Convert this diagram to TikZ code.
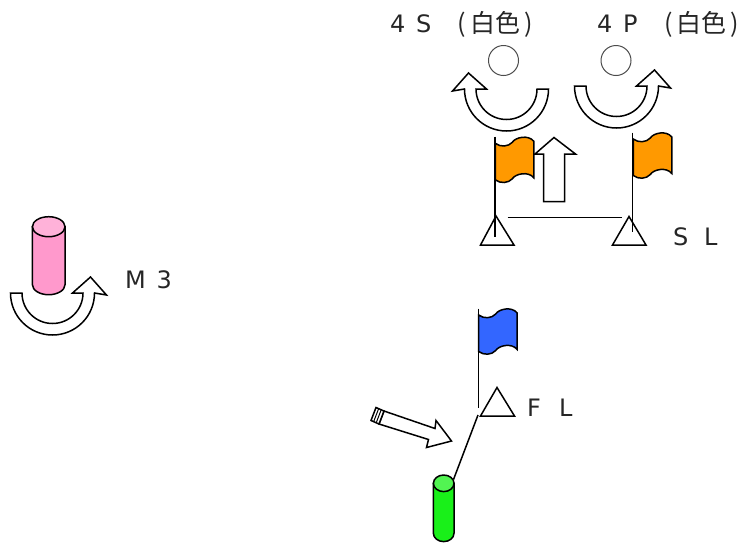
\documentclass[tikz,border=0pt]{standalone}
\usepackage{fontspec}
\setmainfont{DejaVu Sans}
\newfontfamily\cjk{Noto Sans CJK JP}
\definecolor{flagorange}{HTML}{FF9900}
\definecolor{flagblue}{HTML}{3366FF}
\definecolor{tubepink}{HTML}{FF99CC}
\definecolor{tubegreen}{HTML}{19F019}
\tikzset{
    lab/.style={anchor=base west,inner sep=0pt,text=black!85,font=\fontsize{24}{28}\selectfont},
    pen/.style={draw=black,line width=1.5pt,line join=miter},
    thin pen/.style={draw=black!70,line width=1pt},
    pics/flagcloth/.style={code={
        \draw[pen,fill=#1] (0,0) .. controls (5,-4) and (13,-3.5) .. (17,1) .. controls (20,6) and (33,9) .. (38.5,2)
            -- (38.5,-34.5) .. controls (33,-27.5) and (20,-30.5) .. (17,-35.5) .. controls (13,-40) and (5,-40.5) .. (0,-36.5) -- cycle;
    }},
    pics/turnarrow/.style={code={
        \draw[pen,fill=white] (-42pt,0) arc[start angle=180,end angle=360,radius=42pt]
            -- (54,-2) -- (38,16) -- (20,0) -- (30.5pt,0) arc[start angle=0,end angle=-180,radius=30.5pt] -- cycle;
    }},
    pics/tube/.style n args={4}{code={
        \draw[pen,fill=#3] (-#1,0) -- (-#1,-#4) arc[start angle=180,end angle=360,x radius=#1,y radius=#2] -- (#1,0) -- cycle;
        \draw[pen,fill=#3!75!white] (0,0) ellipse[x radius=#1,y radius=#2];
    }},
}
\begin{document}
\begin{tikzpicture}[x=1pt,y=1pt]
    \useasboundingbox (0,-542) rectangle (741,0);

    % Coordinates
    \coordinate (SLa) at (496,-216);
    \coordinate (SLb) at (629,-216.5);
    \coordinate (FLa) at (497,-387.5);
    \coordinate (LineA) at (507.5,-217.5);
    \coordinate (LineB) at (622,-217.5);
    \coordinate (PoleA) at (495,-136.5);
    \coordinate (PoleAe) at (495,-236.5);
    \coordinate (PoleB) at (632.5,-132.5);
    \coordinate (PoleBe) at (632.5,-231.5);
    \coordinate (PoleC) at (478.5,-308.5);
    \coordinate (PoleCe) at (478.5,-407.5);
    \coordinate (LegA) at (478,-415);
    \coordinate (LegB) at (453.5,-479.5);

    % Labels
    \node[lab] (lab4s) at (390,-32) {4\hspace{0.45em}S\hspace{1.1em}{\cjk\fontsize{25}{28}\selectfont (\hspace{4pt}白色\hspace{4pt})}};
    \node[lab] (lab4p) at (597,-32) {4\hspace{0.45em}P\hspace{1.1em}{\cjk\fontsize{25}{28}\selectfont (\hspace{4pt}白色\hspace{4pt})}};
    \node[lab] (labsl) at (673,-245) {S\hspace{0.65em}L};
    \node[lab] (labfl) at (527,-416) {F\hspace{0.75em}L};
    \node[lab] (labm) at (125,-288) {M\hspace{0.45em}3};

    % Circles
    \draw[thin pen] (503.5,-60.5) circle (15);
    \draw[thin pen] (616,-60.5) circle (15);

    % Turning arrows
    \pic[xscale=-1] at (506.5,-89) {turnarrow};
    \pic at (616.5,-86) {turnarrow};
    \pic at (52.5,-293) {turnarrow};

    % Flags
    \pic at (495.3,-143.3) {flagcloth=flagorange};
    \pic at (633.3,-139) {flagcloth=flagorange};
    \pic at (478.7,-315) {flagcloth=flagblue};
    \draw[pen] (PoleA) -- (PoleAe);
    \draw[pen] (PoleB) -- (PoleBe);
    \draw[pen] (PoleC) -- (PoleCe);

    % Triangles
    \draw[pen] (SLa) -- +(-15.5,-29) -- +(18,-29) -- cycle;
    \draw[pen] (SLb) -- +(-16.5,-28.5) -- +(17,-28.5) -- cycle;
    \draw[pen] (FLa) -- +(-16.5,-28.5) -- +(17.5,-28.5) -- cycle;
    \draw[pen] (LineA) -- (LineB);

    % Straight arrows
    \draw[pen,fill=white] (543.5,-201.5) -- (543.5,-154) -- (535,-154) -- (554,-137.5) -- (575.5,-154) -- (564.5,-154) -- (564.5,-201.5) -- cycle;
    \draw[pen,fill=white] (384,-411) -- (435,-428.5) -- (436,-420.5) -- (451.5,-441) -- (426.5,-447.5) -- (428.5,-439.5) -- (379,-424) -- cycle;
    \draw[pen,fill=white] (376,-407.5) -- (384,-411) -- (379,-424) -- (371,-420.5) -- cycle;
    \draw[line width=1pt] (378.7,-408.5) -- (373.7,-421.5);
    \draw[line width=1pt] (381.3,-409.5) -- (376.3,-422.5);

    % Cylinders
    \pic at (48.7,-226.7) {tube={16.3}{10}{tubepink}{58}};
    \pic at (443.7,-483.3) {tube={10.3}{8.3}{tubegreen}{50}};
    \draw[pen] (LegA) -- (LegB);
\end{tikzpicture}
\end{document}
